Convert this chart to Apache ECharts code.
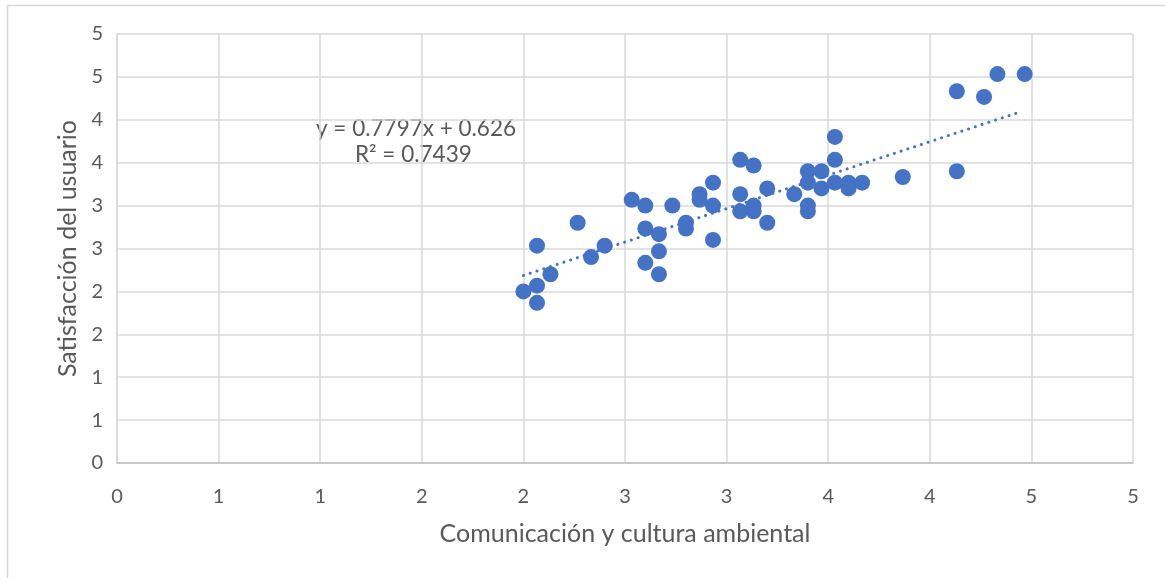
<!DOCTYPE html>
<html>
<head>
<meta charset="utf-8">
<script src="https://cdn.jsdelivr.net/npm/echarts@6/dist/echarts.min.js"></script>
<style>
html,body{margin:0;padding:0;background:#fff;}
#chart{width:1165px;height:578px;}
</style>
</head>
<body>
<div id="chart"></div>
<script>
// Data
const xValues = [2.000,2.067,2.067,2.067,2.133,2.267,2.333,2.400,2.533,2.600,2.600,2.600,2.667,2.667,2.667,2.733,2.800,2.800,2.867,2.867,2.933,2.933,2.933,3.067,3.067,3.067,3.133,3.133,3.133,3.200,3.200,3.333,3.400,3.400,3.400,3.400,3.467,3.467,3.533,3.533,3.533,3.600,3.600,3.667,3.867,4.133,4.133,4.267,4.333,4.467];
const yValues = [2.000,2.067,1.867,2.533,2.200,2.800,2.400,2.533,3.067,3.000,2.733,2.333,2.667,2.467,2.200,3.000,2.800,2.733,3.133,3.067,3.267,3.000,2.600,3.533,3.133,2.933,3.467,3.000,2.933,3.200,2.800,3.133,3.400,3.267,3.000,2.933,3.400,3.200,3.800,3.533,3.267,3.267,3.200,3.267,3.333,4.333,3.400,4.267,4.533,4.533];
const trendSlope = 0.7797;
const trendIntercept = 0.626;
const trendRange = [2.0, 4.43];
const trendLabel = ['y = 0.7797x + 0.626', 'R² = 0.7439'];
const xTitle = 'Comunicación y cultura ambiental';
const yTitle = 'Satisfacción del usuario';

const points = xValues.map((x, i) => [x, yValues[i]]);
const trendPoints = trendRange.map(x => [x, trendSlope * x + trendIntercept]);

const FONT = 'Lato';
const TXT = '#595959';
const chart = echarts.init(document.getElementById('chart'));
const fmt = v => String(Math.round(v));
chart.setOption({
  animation: false,
  backgroundColor: '#fff',
  textStyle: {fontFamily: FONT},
  grid: {left: 117, right: 32, top: 34, bottom: 115, containLabel: false},
  xAxis: {
    type: 'value', min: 0, max: 5, interval: 0.5,
    name: xTitle, nameLocation: 'middle', nameGap: 58,
    nameTextStyle: {fontSize: 25, color: TXT, fontFamily: FONT},
    axisLine: {show: true, lineStyle: {color: '#BFBFBF', width: 1.5}},
    axisTick: {show: false},
    splitLine: {show: true, lineStyle: {color: '#D9D9D9', width: 1.5}},
    axisLabel: {formatter: fmt, fontSize: 20, color: TXT, margin: 24, fontFamily: FONT}
  },
  yAxis: {
    type: 'value', min: 0, max: 5, interval: 0.5,
    name: yTitle, nameLocation: 'middle', nameGap: 37,
    nameTextStyle: {fontSize: 25, color: TXT, fontFamily: FONT},
    axisLine: {show: true, lineStyle: {color: '#D9D9D9', width: 1.5}},
    axisTick: {show: false},
    splitLine: {show: true, lineStyle: {color: '#D9D9D9', width: 1.5}},
    axisLabel: {formatter: fmt, fontSize: 20, color: TXT, margin: 14, fontFamily: FONT}
  },
  graphic: [
    {type: 'rect', shape: {x: 7.5, y: 5.5, width: 1200, height: 600},
     style: {fill: 'none', stroke: '#D9D9D9', lineWidth: 1.5}, z: -10},
    {type: 'text', left: 316, top: 117, style: {text: trendLabel[0], fontSize: 22.5, fill: TXT, fontFamily: FONT}},
    {type: 'text', left: 355, top: 143, style: {text: trendLabel[1], fontSize: 22.5, fill: TXT, fontFamily: FONT}}
  ],
  series: [
    {type: 'scatter', data: points, symbol: 'circle', symbolSize: 16,
     itemStyle: {color: '#4472C4', opacity: 1}, z: 3},
    {type: 'line', data: trendPoints, symbol: 'none', z: 4,
     lineStyle: {color: '#4472C4', width: 3, type: [0.1, 7], cap: 'round'}}
  ]
});
</script>
</body>
</html>
